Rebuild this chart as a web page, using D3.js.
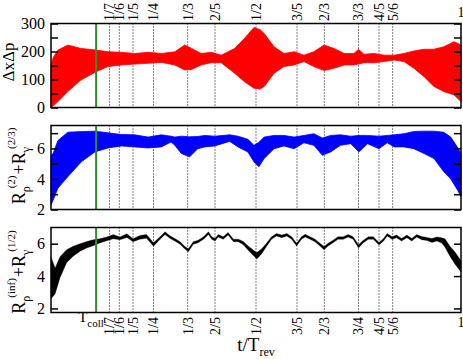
<!DOCTYPE html>
<html>
<head>
<meta charset="utf-8">
<script src="https://cdn.jsdelivr.net/npm/d3@7"></script>
<style>
body { margin: 0; background: #fff; }
svg, svg text { font-family: "Liberation Serif", "DejaVu Serif", serif; fill: #000; }
</style>
</head>
<body>
<svg id="chart" width="463" height="359" font-family="Liberation Serif, DejaVu Serif, serif"></svg>
<script>
// fractions of the revival time marked with dotted lines
var fracs = [1/7, 1/6, 1/5, 1/4, 1/3, 2/5, 1/2, 3/5, 2/3, 3/4, 4/5, 5/6];
var topLabels = ["1/7", "1/6", "1/5", "1/4", "1/3", "2/5", "1/2", "3/5", "2/3", "3/3", "4/5", "5/6"];
var bottomLabels = ["1/7", "1/6", "1/5", "1/4", "1/3", "2/5", "1/2", "3/5", "2/3", "3/4", "4/5", "5/6"];
var tColl = 0.11;

// panel 1: ΔxΔp envelope
var t1 = [0, 0.005, 0.017, 0.041, 0.073, 0.11, 0.139, 0.172, 0.204, 0.237, 0.27, 0.302, 0.326, 0.343, 0.366, 0.391, 0.415, 0.448, 0.472, 0.495, 0.51, 0.52, 0.544, 0.568, 0.593, 0.617, 0.641, 0.666, 0.69, 0.715, 0.739, 0.75, 0.763, 0.788, 0.812, 0.837, 0.861, 0.885, 0.91, 0.934, 0.958, 0.983, 1.0];
var hi1 = [150, 178, 205, 223, 211, 205, 199, 197, 193, 197, 193, 199, 223, 211, 193, 197, 187, 211, 247, 286, 278, 264, 217, 193, 199, 187, 199, 223, 211, 193, 193, 208, 190, 193, 187, 187, 193, 202, 208, 208, 217, 235, 223];
var lo1 = [0, 5, 21, 57, 98, 128, 146, 152, 155, 158, 161, 152, 134, 136, 152, 160, 160, 122, 92, 69, 66, 75, 122, 146, 152, 164, 146, 132, 140, 152, 152, 155, 160, 160, 164, 170, 164, 140, 110, 75, 57, 45, 21];

// panel 2: R_p^(2)+R_g^(2/3) envelope
var t2 = [0, 0.005, 0.017, 0.041, 0.074, 0.107, 0.139, 0.172, 0.204, 0.237, 0.269, 0.293, 0.302, 0.318, 0.338, 0.358, 0.375, 0.399, 0.436, 0.456, 0.48, 0.495, 0.507, 0.52, 0.544, 0.568, 0.593, 0.617, 0.641, 0.662, 0.682, 0.706, 0.731, 0.751, 0.772, 0.8, 0.82, 0.837, 0.861, 0.885, 0.91, 0.934, 0.958, 0.975, 0.991, 1.0];
var hi2 = [5.55, 5.66, 6.52, 7.06, 7.1, 7.13, 7.02, 6.91, 6.89, 6.74, 6.89, 6.8, 6.74, 6.8, 6.76, 6.78, 6.85, 6.8, 6.89, 6.8, 6.6, 6.2, 6.4, 6.74, 6.85, 6.85, 6.74, 6.85, 6.96, 6.68, 6.85, 6.89, 6.8, 6.85, 6.85, 6.8, 6.85, 6.89, 6.96, 7.11, 7.13, 7.13, 7.06, 6.74, 6.09, 5.66];
var lo2 = [2.3, 2.6, 3.4, 4.15, 5.12, 5.77, 6.03, 6.16, 6.1, 6.03, 6.1, 6.42, 6.2, 5.66, 5.45, 5.98, 6.1, 6.16, 6.46, 6.1, 5.77, 5.12, 4.8, 5.34, 5.98, 6.16, 5.98, 6.37, 6.2, 5.55, 5.77, 6.2, 6.31, 5.77, 6.31, 5.98, 6.37, 6.1, 6.1, 5.98, 5.66, 5.34, 4.47, 4.0, 3.3, 2.85];

// panel 3: R_p^(inf)+R_g^(1/2) envelope
var t3 = [0, 0.01, 0.022, 0.038, 0.054, 0.071, 0.087, 0.103, 0.119, 0.136, 0.152, 0.168, 0.185, 0.2, 0.217, 0.233, 0.25, 0.266, 0.278, 0.29, 0.302, 0.315, 0.327, 0.335, 0.347, 0.359, 0.372, 0.384, 0.392, 0.4, 0.408, 0.42, 0.432, 0.445, 0.457, 0.469, 0.481, 0.494, 0.502, 0.514, 0.526, 0.538, 0.55, 0.563, 0.575, 0.587, 0.599, 0.611, 0.62, 0.632, 0.644, 0.656, 0.666, 0.676, 0.688, 0.7, 0.713, 0.725, 0.737, 0.75, 0.762, 0.774, 0.786, 0.8, 0.811, 0.82, 0.832, 0.843, 0.855, 0.868, 0.88, 0.892, 0.904, 0.917, 0.929, 0.941, 0.953, 0.961, 0.973, 0.985, 1.0];
var hi3 = [5.2, 4.5, 5.2, 5.63, 5.84, 6.0, 6.14, 6.24, 6.31, 6.41, 6.56, 6.41, 6.61, 6.31, 6.51, 6.56, 6.06, 6.43, 6.73, 6.49, 6.32, 6.12, 5.81, 5.68, 6.12, 6.22, 6.43, 6.73, 6.43, 6.32, 6.57, 6.43, 6.69, 6.28, 6.28, 6.14, 5.86, 5.6, 5.45, 5.68, 6.04, 6.43, 6.63, 6.53, 6.63, 6.43, 6.02, 6.43, 6.58, 6.43, 6.28, 6.03, 5.83, 6.02, 6.22, 6.43, 6.43, 6.57, 6.43, 5.94, 6.22, 6.43, 6.43, 6.08, 6.32, 6.63, 6.43, 6.53, 6.32, 6.53, 6.32, 6.57, 6.45, 6.39, 6.32, 6.42, 6.36, 6.3, 5.84, 5.5, 4.95];
var lo3 = [2.6, 2.9, 3.9, 4.82, 5.22, 5.53, 5.73, 5.88, 6.04, 6.18, 6.3, 6.24, 6.39, 6.12, 6.28, 6.33, 5.84, 6.27, 6.57, 6.33, 6.16, 5.96, 5.65, 5.5, 5.96, 6.06, 6.27, 6.57, 6.27, 6.16, 6.41, 6.27, 6.53, 6.12, 6.12, 5.94, 5.6, 5.25, 5.05, 5.38, 5.84, 6.27, 6.47, 6.37, 6.47, 6.27, 5.86, 6.27, 6.42, 6.27, 6.12, 5.85, 5.63, 5.86, 6.06, 6.27, 6.27, 6.41, 6.27, 5.74, 6.06, 6.27, 6.27, 5.92, 6.16, 6.47, 6.27, 6.37, 6.16, 6.37, 6.16, 6.41, 6.25, 6.19, 6.08, 6.16, 6.04, 5.78, 5.22, 4.74, 4.25];

var FONT = "Liberation Serif, DejaVu Serif, serif";
var svg = d3.select("#chart");
var x = d3.scaleLinear().domain([0, 1]).range([51, 461]);

var panels = [
    {top: 23.5, bottom: 107.5, domain: [0, 300], t: t1, hi: hi1, lo: lo1, color: "#ff0000", edge: 0.8,
     ticks: [0, 50, 100, 150, 200, 250, 300], labels: [0, 100, 200, 300]},
    {top: 125.5, bottom: 209.5, domain: [2, 7.5], t: t2, hi: hi2, lo: lo2, color: "#0000ff", edge: 0.8,
     ticks: [2, 3, 4, 5, 6, 7], labels: [2, 4, 6]},
    {top: 227.5, bottom: 312.5, domain: [1.75, 7], t: t3, hi: hi3, lo: lo3, color: "#000000", edge: 0.3,
     ticks: [2, 4, 6], labels: [2, 4, 6]}
];

panels.forEach(function(p) {
    var y = d3.scaleLinear().domain(p.domain).range([p.bottom, p.top]);
    var g = svg.append("g");

    // dotted guide lines (under the data)
    g.selectAll(".guide")
        .data(fracs)
        .enter().append("line")
        .attr("x1", d => x(d)).attr("x2", d => x(d))
        .attr("y1", p.top).attr("y2", p.bottom)
        .attr("stroke", "#000")
        .attr("stroke-width", 1)
        .attr("stroke-dasharray", "1,2");

    var pts = p.t.map((t, i) => ({t: t, hi: p.hi[i], lo: p.lo[i]}));
    var area = d3.area()
        .x(d => x(d.t))
        .y0(d => y(d.lo))
        .y1(d => y(d.hi));
    g.append("path")
        .datum(pts)
        .attr("d", area)
        .attr("fill", p.color)
        .attr("stroke", p.color)
        .attr("stroke-width", p.edge);

    // T_coll line
    g.append("line")
        .attr("x1", x(tColl)).attr("x2", x(tColl))
        .attr("y1", p.top).attr("y2", p.bottom)
        .attr("stroke", "#2a912a")
        .attr("stroke-width", 2);

    // axes, ticks pointing inward
    var left = d3.axisLeft(y).tickValues(p.ticks).tickSize(-7).tickPadding(6)
        .tickFormat(d => p.labels.indexOf(d) >= 0 ? d : "");
    var lg = g.append("g").attr("transform", "translate(51,0)").call(left);
    var right = d3.axisRight(y).tickValues(p.ticks).tickSize(-7).tickFormat("");
    var rg = g.append("g").attr("transform", "translate(461,0)").call(right);
    [lg, rg].forEach(a => {
        a.attr("font-family", FONT);
        a.select(".domain").remove();
        a.selectAll("line").attr("stroke", "#000").attr("stroke-width", 1.5);
    });
    lg.selectAll("text")
        .style("font-family", FONT)
        .style("font-size", "16px");

    g.append("rect")
        .attr("x", 51).attr("y", p.top)
        .attr("width", 410).attr("height", p.bottom - p.top)
        .attr("fill", "none")
        .attr("stroke", "#000")
        .attr("stroke-width", 1.5);
});

// top fraction labels
svg.selectAll(".toplab")
    .data(fracs)
    .enter().append("text")
    .attr("transform", d => "translate(" + x(d) + ",21) rotate(-90)")
    .attr("dy", "0.35em")
    .attr("text-anchor", "start")
    .style("font-size", "14px")
    .text((d, i) => topLabels[i]);
svg.append("text").attr("x", x(1)).attr("y", 17).attr("text-anchor", "middle")
    .style("font-size", "14px").text("1");

// bottom fraction labels
svg.selectAll(".botlab")
    .data(fracs)
    .enter().append("text")
    .attr("transform", d => "translate(" + x(d) + ",317) rotate(-90)")
    .attr("dy", "0.35em")
    .attr("text-anchor", "end")
    .style("font-size", "14px")
    .text((d, i) => bottomLabels[i]);
svg.append("text").attr("x", x(1)).attr("y", 327).attr("text-anchor", "middle")
    .style("font-size", "14px").text("1");

var tc = svg.append("text").attr("x", 91).attr("y", 322).attr("text-anchor", "middle")
    .style("font-size", "15px");
tc.append("tspan").text("T");
tc.append("tspan").attr("dy", 5).style("font-size", "11px").text("coll");

var xt = svg.append("text").attr("x", 256).attr("y", 351).attr("text-anchor", "middle")
    .style("font-size", "19px");
xt.append("tspan").text("t/T");
xt.append("tspan").attr("dy", 5).style("font-size", "12px").text("rev");

// y titles
svg.append("text")
    .attr("transform", "translate(14,62) rotate(-90)")
    .attr("text-anchor", "middle")
    .style("font-size", "17px")
    .text("ΔxΔp");

function rTitle(cx, cy, supA, supB) {
    var tx = svg.append("text")
        .attr("transform", "translate(" + cx + "," + cy + ") rotate(-90)")
        .attr("text-anchor", "middle")
        .style("font-size", "18px");
    tx.append("tspan").text("R");
    tx.append("tspan").attr("dy", 5).style("font-size", "12px").text("ρ");
    tx.append("tspan").attr("dy", -15).attr("dx", -2).style("font-size", "11px").text(supA);
    tx.append("tspan").attr("dy", 10).attr("dx", 1).text("+R");
    tx.append("tspan").attr("dy", 5).style("font-size", "12px").text("γ");
    tx.append("tspan").attr("dy", -15).attr("dx", -2).style("font-size", "11px").text(supB);
}
rTitle(25, 166, "(2)", "(2/3)");
rTitle(25, 272, "(inf)", "(1/2)");
</script>
</body>
</html>
